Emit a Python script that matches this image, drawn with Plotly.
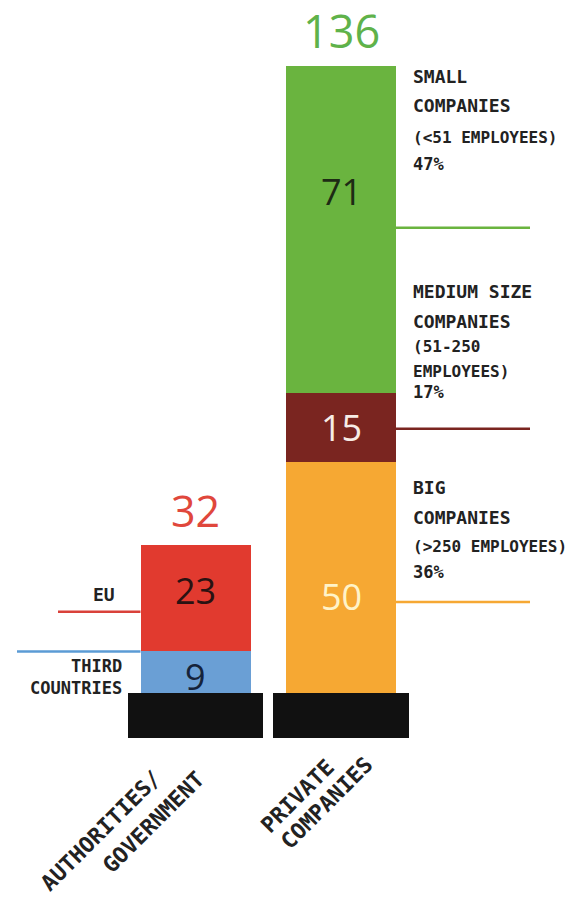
import plotly.graph_objects as go

# ---------------- data ----------------
categories = ["AUTHORITIES/\nGOVERNMENT", "PRIVATE\nCOMPANIES"]
totals = [32, 136]

segment_names = ["THIRD COUNTRIES", "EU", "BIG COMPANIES", "MEDIUM SIZE COMPANIES", "SMALL COMPANIES"]
segment_category = [0, 0, 1, 1, 1]
segment_values = [9, 23, 50, 15, 71]
segment_share_pct = [None, None, 36, 17, 47]

# ---------------- style ----------------
W, H = 580, 899
seg_colors = ["#6a9fd5", "#e13a2f", "#f6a833", "#7a2520", "#6ab43f"]
seg_text_colors = ["#15233a", "#2a1212", "#fff3c8", "#f7ece6", "#1d2b14"]
line_colors = ["#5b9bd5", "#d9413a", "#f6a833", "#7a2520", "#6ab43f"]
total_colors = ["#e0473c", "#5fb24a"]
label_frac = [0.39, 0.57, 0.42, 0.51, 0.615]   # vertical position of number inside segment
line_frac = [1.0, 0.374, 0.394, 0.487, 0.506]  # vertical position of leader line
BAR_W = 0.756
BASE_W = 0.928
BASE_DEPTH = 9.8
X_RANGE = [-1.3436, 2.6426]
Y_RANGE = [-44.7, 150.3]
NUM_FONT = "Open Sans"
MONO = "DejaVu Sans Mono"


def px(x):
    return x / W


def py(y):
    return 1 - y / H


def x_of_px(p):
    return X_RANGE[0] + (X_RANGE[1] - X_RANGE[0]) * p / W


fig = go.Figure()

# stacked segments
cum = [0, 0]
seg_bases = []
for i, v in enumerate(segment_values):
    c = segment_category[i]
    seg_bases.append(cum[c])
    cum[c] += v
    fig.add_trace(go.Bar(
        x=[c], y=[v], width=BAR_W, name=segment_names[i],
        marker=dict(color=seg_colors[i], line=dict(width=0)),
        hoverinfo="name+y", showlegend=False,
    ))

# black plinths
fig.add_trace(go.Bar(
    x=[0, 1], y=[-BASE_DEPTH, -BASE_DEPTH], width=BASE_W,
    marker=dict(color="#111111", line=dict(width=0)),
    hoverinfo="skip", showlegend=False,
))

annotations = []
shapes = []

# numbers inside segments
for i, v in enumerate(segment_values):
    c = segment_category[i]
    annotations.append(dict(
        x=c, y=seg_bases[i] + v * label_frac[i], xref="x", yref="y",
        text=str(v), showarrow=False,
        font=dict(family=NUM_FONT, size=36, color=seg_text_colors[i]),
    ))

# totals
for c, t in enumerate(totals):
    annotations.append(dict(
        x=c, y=t, xref="x", yref="y", text=str(t), showarrow=False,
        yanchor="middle", yshift=35,
        font=dict(family=NUM_FONT, size=[43, 45][c], color=total_colors[c]),
    ))

# leader lines
right_end = x_of_px(530)
left_ends = {0: x_of_px(17), 1: x_of_px(58)}
for i, v in enumerate(segment_values):
    c = segment_category[i]
    yl = seg_bases[i] + v * line_frac[i]
    if c == 1:
        x0, x1 = c + BAR_W / 2, right_end
    else:
        x0, x1 = left_ends[i], c - BAR_W / 2
    shapes.append(dict(type="line", xref="x", yref="y", x0=x0, x1=x1, y0=yl, y1=yl,
                       line=dict(color=line_colors[i], width=2.5), layer="below"))

# right-hand descriptive labels
def share(i):
    return f"{segment_share_pct[i]}%"

right_labels = [
    (["SMALL", "COMPANIES", "(<51 EMPLOYEES)", share(4)], [77, 105, 137, 164], [18, 18, 16, 17]),
    (["MEDIUM SIZE", "COMPANIES", "(51-250", "EMPLOYEES)", share(3)], [291, 321, 347, 371, 392], [18, 18, 16, 16, 17]),
    (["BIG", "COMPANIES", "(>250 EMPLOYEES)", share(2)], [487, 517, 546, 572], [18, 18, 16, 17]),
]
for lines, ys, sizes in right_labels:
    for t, yy, s in zip(lines, ys, sizes):
        annotations.append(dict(
            x=px(411), y=py(yy), xref="paper", yref="paper", text=t, showarrow=False,
            xanchor="left", yanchor="middle",
            font=dict(family=MONO, size=s, color="#222222", weight="bold"),
        ))

# left-hand labels
for t, xx, yy, s in [("EU", 117, 594, 18), ("THIRD<br>COUNTRIES", 124, 677, 17)]:
    annotations.append(dict(
        x=px(xx), y=py(yy), xref="paper", yref="paper", text=t, showarrow=False,
        xanchor="right", yanchor="middle", align="right",
        font=dict(family=MONO, size=s, color="#222222", weight="bold"),
    ))

# rotated category labels
cat_lines = [categories[0].split("\n"), categories[1].split("\n")]
cat_pos = [[(101, 830), (153, 822)], [(297, 796), (326, 803)]]
for lines, poss in zip(cat_lines, cat_pos):
    for t, (xx, yy) in zip(lines, poss):
        annotations.append(dict(
            x=px(xx), y=py(yy), xref="paper", yref="paper", text=t, showarrow=False,
            xanchor="center", yanchor="middle", textangle=-45,
            font=dict(family=MONO, size=22, color="#222222", weight="bold"),
        ))

fig.update_layout(
    width=W, height=H, margin=dict(l=0, r=0, t=0, b=0),
    paper_bgcolor="white", plot_bgcolor="white",
    barmode="relative", bargap=0,
    xaxis=dict(range=X_RANGE, visible=False, fixedrange=True),
    yaxis=dict(range=Y_RANGE, visible=False, fixedrange=True),
    annotations=annotations, shapes=shapes,
)

fig.write_html("out.html", config={"displayModeBar": False},
               post_script="document.body.style.margin='0';")
